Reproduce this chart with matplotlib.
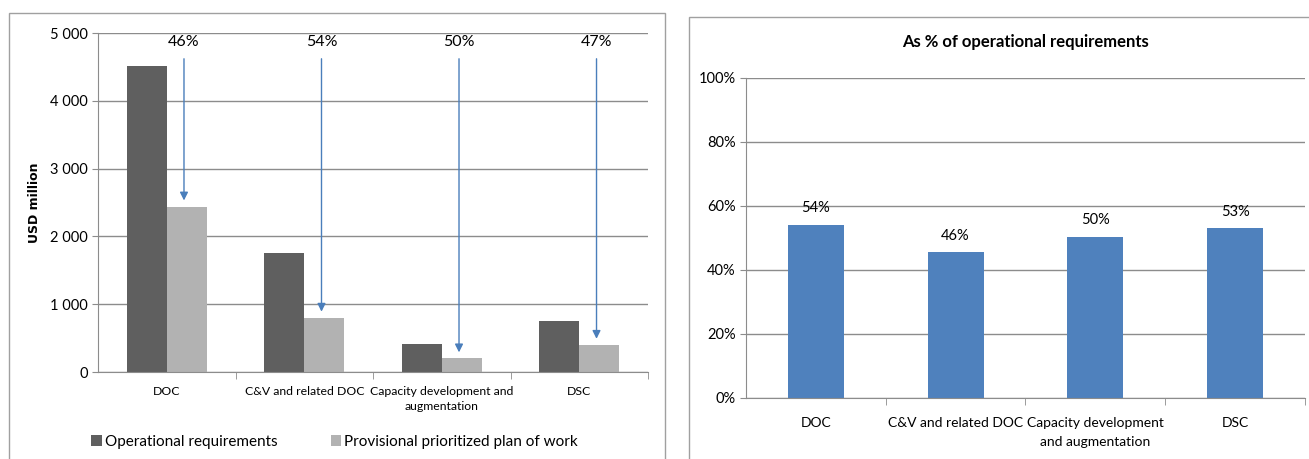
import matplotlib.pyplot as plt
from matplotlib.patches import Rectangle
from matplotlib.ticker import FuncFormatter
import numpy as np

plt.rcParams['font.family'] = ['Lato', 'DejaVu Sans']

# data
cats_left = ['DOC', 'C&V and related DOC', 'Capacity development and\naugmentation', 'DSC']
cats_right = ['DOC', 'C&V and related DOC', 'Capacity development\nand augmentation', 'DSC']
operational = [4520, 1750, 410, 750]
provisional = [2440, 800, 200, 400]
reduction_labels = ['46%', '54%', '50%', '47%']
share_pct = [54, 45.5, 50.3, 53]
share_labels = ['54%', '46%', '50%', '53%']

dark = '#5f5f5f'
light = '#b2b2b2'
blue = '#4f81bd'
grid = '#8c8c8c'

fig = plt.figure(figsize=(13.09, 4.59), dpi=100)

# panel frames
fig.patches.append(Rectangle((0.0069, -0.1), 0.501, 1.0717, transform=fig.transFigure,
                             fill=False, edgecolor='#a0a0a0', lw=1))
fig.patches.append(Rectangle((0.5264, -0.1), 0.5, 1.063, transform=fig.transFigure,
                             fill=False, edgecolor='#a0a0a0', lw=1))


def style_axes(ax):
    for s in ['top', 'right']:
        ax.spines[s].set_visible(False)
    ax.spines['left'].set_color(grid)
    ax.spines['bottom'].set_color(grid)
    ax.yaxis.grid(True, color=grid, lw=1)
    ax.set_axisbelow(True)
    ax.tick_params(axis='y', colors=grid, length=4, labelcolor='black')
    ax.tick_params(axis='x', which='major', length=0, pad=10, labelcolor='black')
    ax.tick_params(axis='x', which='minor', length=5, color=grid)
    ax.set_xticks(np.arange(0.5, 4, 1), minor=True)
    ax.set_xlim(-0.5, 3.5)


# left chart
ax1 = fig.add_axes([0.0749, 0.1895, 0.4202, 0.7386])
x = np.arange(len(cats_left))
w = 0.29
ax1.bar(x - w / 2, operational, w, color=dark, label='Operational requirements')
ax1.bar(x + w / 2, provisional, w, color=light, label='Provisional prioritized plan of work')
ax1.set_ylim(0, 5000)
ax1.set_yticks(range(0, 5001, 1000))
ax1.yaxis.set_major_formatter(FuncFormatter(lambda v, p: f'{int(v):,}'.replace(',', ' ')))
ax1.tick_params(axis='y', labelsize=10.5)
style_axes(ax1)
ax1.set_xticks(x)
ax1.set_xticklabels(cats_left, fontsize=8.8, linespacing=1.5)
ax1.set_ylabel('USD million', fontsize=9, fontweight='bold', family='DejaVu Sans', labelpad=6)

for xi, pv, lab in zip(x, provisional, reduction_labels):
    ax1.annotate('', xy=(xi + w / 2 - 0.02, pv + 90), xytext=(xi + w / 2 - 0.02, 4620),
                 arrowprops=dict(arrowstyle='-|>', color='#4a7ebb', lw=1, mutation_scale=12,
                                 shrinkA=0, shrinkB=0))
    ax1.text(xi + w / 2 - 0.02, 4870, lab, ha='center', va='center', fontsize=11.5)

ax1.legend(loc='upper center', bbox_to_anchor=(0.43, -0.145), ncol=2, frameon=False,
           fontsize=11, handlelength=0.7, handleheight=0.7, handletextpad=0.2,
           columnspacing=3.5)

# right chart
ax2 = fig.add_axes([0.5699, 0.1329, 0.4270, 0.6978])
x2 = np.arange(len(cats_right))
ax2.bar(x2, share_pct, 0.4, color=blue)
ax2.set_ylim(0, 100)
ax2.set_yticks(range(0, 101, 20))
ax2.yaxis.set_major_formatter(FuncFormatter(lambda v, p: f'{int(v)}%'))
ax2.tick_params(axis='y', labelsize=10.5)
style_axes(ax2)
ax2.tick_params(axis='x', which='major', pad=14)
ax2.set_xticks(x2)
ax2.set_xticklabels(cats_right, fontsize=10, linespacing=1.7)
for xi, v, lab in zip(x2, share_pct, share_labels):
    ax2.text(xi, v + 3, lab, ha='center', va='bottom', fontsize=10.5)
ax2.set_title('As % of operational requirements', fontsize=12, fontweight='bold', pad=22)

fig.savefig('out.png', dpi=100, facecolor='white')
